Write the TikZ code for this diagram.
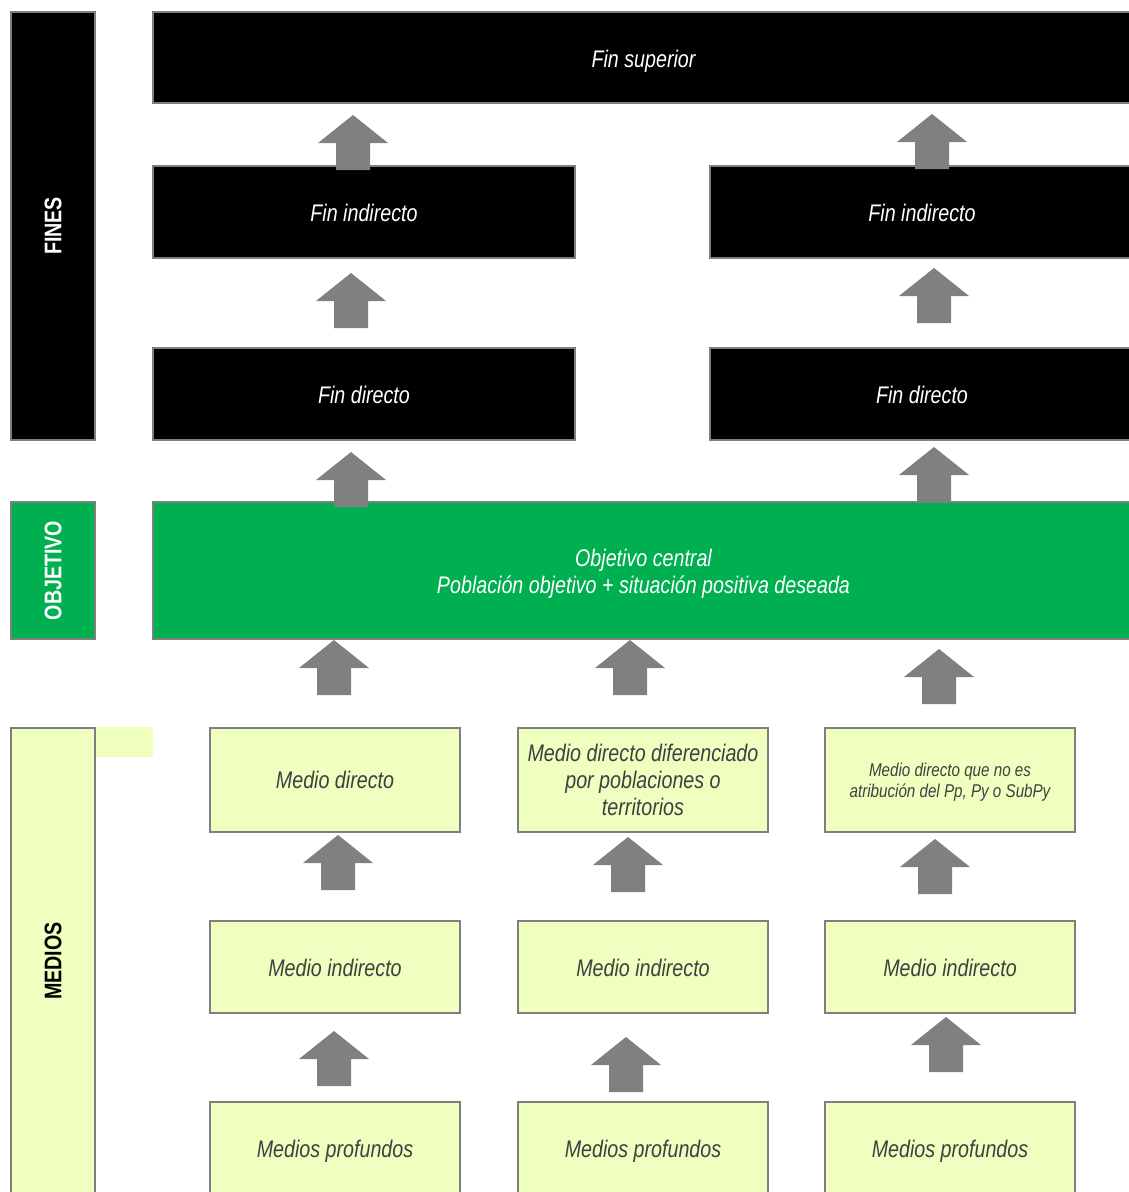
\documentclass[tikz,border=0pt]{standalone}
\usepackage{fontspec}
\setmainfont[FakeStretch=0.82]{Liberation Sans}
\definecolor{bordergray}{RGB}{127,127,127}
\definecolor{arrowgray}{RGB}{128,128,128}
\definecolor{objgreen}{RGB}{0,176,80}
\definecolor{lightfill}{RGB}{238,255,192}
\definecolor{darktext}{RGB}{64,64,64}
\begin{document}
\begin{tikzpicture}[x=1pt,y=-1pt,
  box/.style={draw=bordergray, line width=2pt, inner sep=0pt, align=center,
     font=\fontsize{24}{27}\selectfont\itshape},
  blackbox/.style={box, fill=black, text=white},
  greenbox/.style={box, fill=objgreen, text=white},
  lightbox/.style={box, fill=lightfill, text=darktext},
  boxtext/.style={inner sep=0pt, align=center, font=\fontsize{24}{27}\selectfont\itshape},
  sidelabel/.style={draw=bordergray, line width=2pt, inner sep=0pt,
     minimum width=84pt, font=\fontsize{24}{27}\selectfont\bfseries},
  uparrow/.pic={\fill[arrowgray] (0,0) -- (-35,28) -- (-17,28) -- (-17,55) -- (17,55) -- (17,28) -- (35,28) -- cycle;}
]
\clip (0,0) rectangle (1129,1192);
\fill[white] (0,0) rectangle (1129,1192);

% side labels
\node[sidelabel, fill=black, text=white, minimum height=428pt] (fines) at (53,226) {};
\node[rotate=90, text=white, font=\fontsize{24}{27}\selectfont\bfseries] (finestxt) at (fines.center) {FINES};
\node[sidelabel, fill=objgreen, minimum height=137pt] (objetivo) at (53,570.5) {};
\node[rotate=90, text=white, font=\fontsize{24}{27}\selectfont\bfseries] (objtxt) at (objetivo.center) {OBJETIVO};
\fill[lightfill] (95,727) rectangle (153,757);
\node[sidelabel, fill=lightfill, minimum height=466pt] (medios) at (53,961) {};
\node[rotate=90, text=black, font=\fontsize{24}{27}\selectfont\bfseries] (mediostxt) at (medios.center) {MEDIOS};

% fines
\node[blackbox, minimum width=981pt, minimum height=91pt] (finsup) at (643.5,57.5) {};
\node[boxtext, text=white] (finsuptxt) at (643.5,61) {Fin superior};
\node[blackbox, minimum width=422pt, minimum height=92pt] (finindL) at (364,212) {};
\node[boxtext, text=white] (finindLtxt) at (364,213) {Fin indirecto};
\node[blackbox, minimum width=424pt, minimum height=92pt] (finindR) at (922,212) {};
\node[boxtext, text=white] (finindRtxt) at (922,213) {Fin indirecto};
\node[blackbox, minimum width=422pt, minimum height=92pt] (findirL) at (364,394) {};
\node[boxtext, text=white] (findirLtxt) at (364,395) {Fin directo};
\node[blackbox, minimum width=424pt, minimum height=92pt] (findirR) at (922,394) {};
\node[boxtext, text=white] (findirRtxt) at (922,395) {Fin directo};

% objetivo
\node[greenbox, minimum width=981pt, minimum height=137pt] (objcentral) at (643.5,570.5) {};
\node[boxtext, text=white] (objcentraltxt) at (643.5,573.5) {Objetivo central\\Población objetivo + situación positiva deseada};

% medios
\node[lightbox, minimum width=250pt, minimum height=104pt] (md1) at (335,780) {Medio directo};
\node[lightbox, minimum width=250pt, minimum height=104pt] (md2) at (643,780) {Medio directo diferenciado\\por poblaciones o\\territorios};
\node[lightbox, minimum width=250pt, minimum height=104pt] (md3) at (950,780) {};
\node[boxtext, text=darktext, font=\fontsize{18.5}{21}\selectfont\itshape] (md3txt) at (950,782) {Medio directo que no es\\atribución del Pp, Py o SubPy};

\node[lightbox, minimum width=250pt, minimum height=92pt] (mi1) at (335,967) {};
\node[boxtext, text=darktext] (mi1txt) at (335,968) {Medio indirecto};
\node[lightbox, minimum width=250pt, minimum height=92pt] (mi2) at (643,967) {};
\node[boxtext, text=darktext] (mi2txt) at (643,968) {Medio indirecto};
\node[lightbox, minimum width=250pt, minimum height=92pt] (mi3) at (950,967) {};
\node[boxtext, text=darktext] (mi3txt) at (950,968) {Medio indirecto};

\node[lightbox, minimum width=250pt, minimum height=94pt] (mp1) at (335,1149) {};
\node[boxtext, text=darktext] (mp1txt) at (335,1151) {Medios profundos};
\node[lightbox, minimum width=250pt, minimum height=94pt] (mp2) at (643,1149) {};
\node[boxtext, text=darktext] (mp2txt) at (643,1151) {Medios profundos};
\node[lightbox, minimum width=250pt, minimum height=94pt] (mp3) at (950,1149) {};
\node[boxtext, text=darktext] (mp3txt) at (950,1151) {Medios profundos};

% block arrows
\pic at (353,115) {uparrow};
\pic at (932,114) {uparrow};
\pic at (351,273) {uparrow};
\pic at (934,268) {uparrow};
\pic at (351,452) {uparrow};
\pic at (934,447) {uparrow};
\pic at (334,640) {uparrow};
\pic at (630,640) {uparrow};
\pic at (939,649) {uparrow};
\pic at (338,835) {uparrow};
\pic at (628,837) {uparrow};
\pic at (935,839) {uparrow};
\pic at (334,1031) {uparrow};
\pic at (626,1037) {uparrow};
\pic at (946,1017) {uparrow};
\end{tikzpicture}
\end{document}
